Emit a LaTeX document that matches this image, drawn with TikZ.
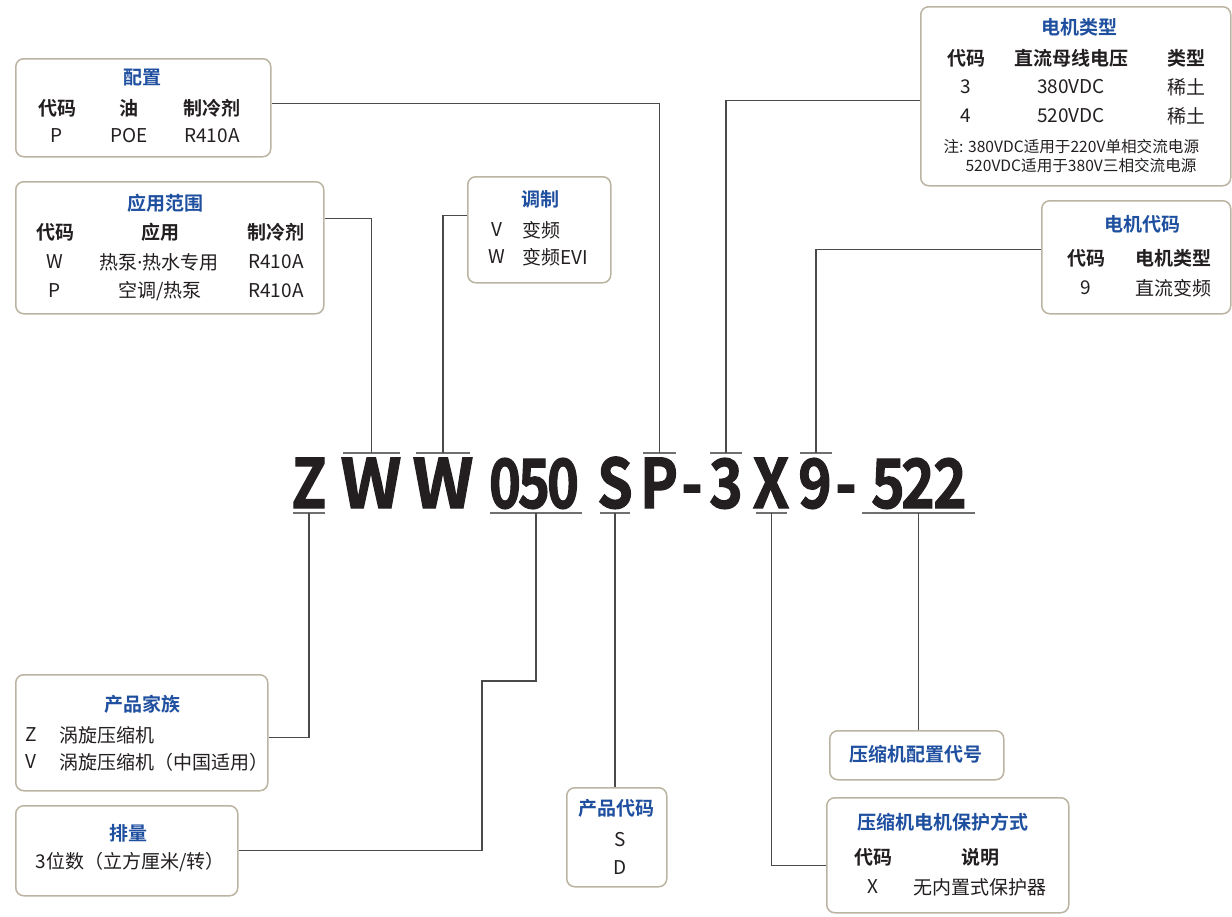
\documentclass[tikz,border=0pt]{standalone}
\usepackage{fontspec}
\setmainfont{Noto Sans CJK SC}[BoldFont={Noto Sans CJK SC Bold}]
\newfontfamily\codefont{Noto Sans CJK SC Bold}[FakeBold=1.8]
\newfontfamily\dotfont{Noto Sans}
\usetikzlibrary{positioning}
\definecolor{titleblue}{HTML}{1F4F9F}
\definecolor{inkgray}{HTML}{231F20}
\definecolor{cardline}{HTML}{BCB4A2}
\definecolor{linkgray}{HTML}{4A4A4A}
\definecolor{bargray}{HTML}{707070}

\tikzset{
  card/.style={draw=cardline, line width=1.5pt, rounded corners=8pt, fill=white, anchor=north west, inner sep=0pt},
  title/.style={text=titleblue, font=\fontsize{19}{22}\selectfont\bfseries},
  head/.style={text=inkgray, font=\fontsize{19}{22}\selectfont\bfseries},
  body/.style={text=inkgray, font=\fontsize{19}{22}\selectfont},
  note/.style={text=inkgray, font=\fontsize{15.6}{18}\selectfont, anchor=west},
  codechar/.style={text=inkgray, font=\fontsize{68}{70}\codefont, anchor=base, inner sep=0pt},
  link/.style={draw=linkgray, line width=1.2pt},
  bar/.style={draw=bargray, line width=1.3pt},
}

\begin{document}
\begin{tikzpicture}[x=1pt, y=-1pt]
  \useasboundingbox (0,0) rectangle (1232,916);

  % Cards
  \node[card, minimum width=255pt, minimum height=98pt]  (pz)   at (15,58)   {};
  \node[card, minimum width=308pt, minimum height=132pt] (yy)   at (15,181)  {};
  \node[card, minimum width=143pt, minimum height=106pt] (tz)   at (467,176) {};
  \node[card, minimum width=310pt, minimum height=179pt] (djlx) at (920,6)   {};
  \node[card, minimum width=189pt, minimum height=113pt] (djdm) at (1041,200) {};
  \node[card, minimum width=252pt, minimum height=116pt] (cpjz) at (15,674)  {};
  \node[card, minimum width=222pt, minimum height=90pt]  (pl)   at (15,805)  {};
  \node[card, minimum width=100pt, minimum height=99pt]  (cpdm) at (566,787) {};
  \node[card, minimum width=174pt, minimum height=49pt]  (pzdh) at (829,730) {};
  \node[card, minimum width=242pt, minimum height=115pt] (bhfs) at (826,797) {};

  % 配置
  \node[title] (pzT) at (142,78) {配置};
  \node[head] at (57,108) {代码};
  \node[head] at (129,108) {油};
  \node[head] at (212,108) {制冷剂};
  \node[body] at (57,136) {P};
  \node[body] at (129,136) {POE};
  \node[body] at (212,136) {R410A};

  % 应用范围
  \node[title] (yyT) at (165,203) {应用范围};
  \node[head] at (55,232) {代码};
  \node[head] at (160,232) {应用};
  \node[head] at (276,232) {制冷剂};
  \node[body] at (55,262) {W};
  \node[body] at (159,262) {热泵{\dotfont ·}热水专用};
  \node[body] at (276,262) {R410A};
  \node[body] at (55,291) {P};
  \node[body] at (160,291) {空调/热泵};
  \node[body] at (276,291) {R410A};

  % 调制
  \node[title] (tzT) at (540,199) {调制};
  \node[body] at (497,230) {V};
  \node[body, anchor=west] at (519,230) {变频};
  \node[body] at (497,257) {W};
  \node[body, anchor=west] at (519,257) {变频EVI};

  % 电机类型
  \node[title] (djlxT) at (1079,27) {电机类型};
  \node[head] at (966,58) {代码};
  \node[head] at (1071,58) {直流母线电压};
  \node[head] at (1186,58) {类型};
  \node[body] at (966,87) {3};
  \node[body] at (1071,87) {380VDC};
  \node[body] at (1186,87) {稀土};
  \node[body] at (966,116) {4};
  \node[body] at (1071,116) {520VDC};
  \node[body] at (1186,116) {稀土};
  \node[note] at (940,147) {注: 380VDC适用于220V单相交流电源};
  \node[note] at (962,166) {520VDC适用于380V三相交流电源};

  % 电机代码
  \node[title] (djdmT) at (1142,224) {电机代码};
  \node[head] at (1086,258) {代码};
  \node[head] at (1173,258) {电机类型};
  \node[body] at (1086,288) {9};
  \node[body] at (1173,288) {直流变频};

  % 产品家族
  \node[title] (cpjzT) at (142,704) {产品家族};
  \node[body] at (31,735) {Z};
  \node[body, anchor=west] at (56,735) {涡旋压缩机};
  \node[body] at (31,762) {V};
  \node[body, anchor=west] at (56,762) {涡旋压缩机（中国适用）};

  % 排量
  \node[title] (plT) at (128,833) {排量};
  \node[body] at (130,862) {3位数（立方厘米/转）};

  % 产品代码
  \node[title] (cpdmT) at (616,808) {产品代码};
  \node[body] at (620,840) {S};
  \node[body] at (620,868) {D};

  % 压缩机配置代号
  \node[title] (pzdhT) at (916,754) {压缩机配置代号};

  % 压缩机电机保护方式
  \node[title] (bhfsT) at (943,822) {压缩机电机保护方式};
  \node[head] at (873,857) {代码};
  \node[head] at (980,857) {说明};
  \node[body] at (873,887) {X};
  \node[body] at (980,887) {无内置式保护器};

  % Model code
  \foreach \ch/\x/\s in {Z/309/0.84, W/371/0.98, W/443/0.98, 0/505/0.8, 5/534/0.8, 0/563/0.8,
                         S/615/0.84, P/659/0.84, -/692/0.84, 3/726/0.84, X/771/0.86,
                         9/815/0.84, -/846/0.84, 5/888/0.84, 2/918/0.84, 2/950/0.84}
  {
    \node[codechar] at (\x,508) {\scalebox{\s}[1]{\ch}};
  }

  % Bars above and below the code
  \foreach \n/\a/\b in {W1/343/400, W2/416/470, P/643/676, 3/710/742, 9/800/832}
  {
    \draw[bar] (\a,453) -- (\b,453);
    \coordinate (t\n) at ({(\a+\b)/2},453);
  }
  \foreach \n/\a/\b in {Z/293/325, 050/490/582, S/600/630, X/756/787, 522/862/975}
  {
    \draw[bar] (\a,513) -- (\b,513);
    \coordinate (b\n) at ({(\a+\b)/2},513);
  }

  % Connectors
  \coordinate (plbend) at (482,681);
  \draw[link] ([yshift=4pt]pz.east) -| (tP);
  \draw[link] ([yshift=29pt]yy.east) -| (tW1);
  \draw[link] ([yshift=14pt]tz.west) -| (tW2);
  \draw[link] ([yshift=-4.5pt]djlx.west) -| (t3);
  \draw[link] ([yshift=7.5pt]djdm.west) -| (t9);
  \draw[link] ([yshift=-5pt]cpjz.east) -| (bZ);
  \draw[link] (pl.east) -| (plbend) -| (b050);
  \draw[link] (cpdm.north -| bS) -- (bS);
  \draw[link] (pzdh.north -| b522) -- (b522);
  \draw[link] ([yshift=-10.5pt]bhfs.west) -| (bX);
\end{tikzpicture}
\end{document}
